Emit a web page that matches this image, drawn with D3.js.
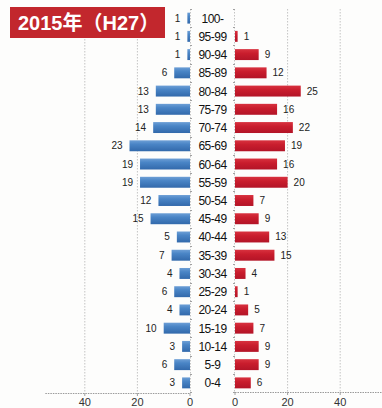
<!DOCTYPE html>
<html>
<head>
<meta charset="utf-8">
<script src="https://cdn.jsdelivr.net/npm/d3@7"></script>
<style>
  html, body { margin: 0; padding: 0; background: #fdfdfc; }
  svg { display: block; }
</style>
</head>
<body>
<svg id="chart" width="382" height="408"></svg>
<script>
// Age groups, oldest at the top
const ageGroups = ["100-", "95-99", "90-94", "85-89", "80-84", "75-79", "70-74",
  "65-69", "60-64", "55-59", "50-54", "45-49", "40-44", "35-39", "30-34",
  "25-29", "20-24", "15-19", "10-14", "5-9", "0-4"];
// Male counts (left, blue)
const maleValues = [1, 1, 1, 6, 13, 13, 14, 23, 19, 19, 12, 15, 5, 7, 4, 6, 4, 10, 3, 6, 3];
// Female counts (right, red)
const femaleValues = [null, 1, 9, 12, 25, 16, 22, 19, 16, 20, 7, 9, 13, 15, 4, 1, 5, 7, 9, 9, 6];
const xTicks = [0, 20, 40];
const titleText = "2015年（H27）";

const svg = d3.select("#chart");
const defs = svg.append("defs");

function grad(id, stops) {
  const g = defs.append("linearGradient").attr("id", id)
    .attr("x1", 0).attr("y1", 0).attr("x2", 0).attr("y2", 1);
  stops.forEach(([o, c]) => g.append("stop").attr("offset", o).attr("stop-color", c));
}
grad("gBlue", [[0, "#6d9fd6"], [0.35, "#4a85c6"], [1, "#3269ab"]]);
grad("gRed", [[0, "#d8323f"], [0.4, "#c91d2d"], [1, "#b31427"]]);

const plotTop = 9, plotBottom = 392;
const y = d3.scaleBand().domain(ageGroups).range([plotTop, plotBottom]).paddingInner(0.4).paddingOuter(0.2);

const xL = d3.scaleLinear().domain([0, 55]).range([190, 190 - 55 * 2.63]);
const xR = d3.scaleLinear().domain([0, 56]).range([235, 235 + 56 * 2.63]);

// grid lines
const grid = svg.append("g").attr("stroke", "#c4c4c4").attr("stroke-width", 1)
  .attr("stroke-dasharray", "1.5,1.5");
xTicks.filter(t => t > 0).forEach(t => {
  grid.append("line").attr("x1", xL(t)).attr("x2", xL(t)).attr("y1", plotTop).attr("y2", plotBottom + 1);
  grid.append("line").attr("x1", xR(t)).attr("x2", xR(t)).attr("y1", plotTop).attr("y2", plotBottom);
});
// vertical axes at zero
grid.append("line").attr("x1", xL(0) + 0.5).attr("x2", xL(0) + 0.5).attr("y1", plotTop).attr("y2", plotBottom + 1);
grid.append("line").attr("x1", xR(0) - 0.5).attr("x2", xR(0) - 0.5).attr("y1", plotTop).attr("y2", plotBottom);

// bottom axes
const axisG = svg.append("g").attr("stroke", "#9a9a9a").attr("stroke-width", 1)
  .attr("stroke-dasharray", "1.5,1");
axisG.append("line").attr("x1", xL.range()[1]).attr("x2", xL(0)).attr("y1", plotBottom + 1.5).attr("y2", plotBottom + 1.5);
axisG.append("line").attr("x1", xR(0)).attr("x2", 382).attr("y1", plotBottom + 0.5).attr("y2", plotBottom + 0.5);

// small ticks on the zero axes at band boundaries
const step = y.step();
const tickG = svg.append("g").attr("stroke", "#a0a0a0").attr("stroke-width", 1);
d3.range(ageGroups.length + 1).forEach(i => {
  const yy = Math.round(plotTop + y.paddingOuter() * step + i * step - step * y.paddingInner() / 2) + 0.5;
  tickG.append("line").attr("x1", xL(0)).attr("x2", xL(0) + 2).attr("y1", yy).attr("y2", yy);
  tickG.append("line").attr("x1", xR(0) - 2).attr("x2", xR(0)).attr("y1", yy).attr("y2", yy);
});

// male bars
svg.append("g").selectAll("rect").data(ageGroups).join("rect")
  .attr("x", (d, i) => xL(maleValues[i]))
  .attr("y", d => y(d))
  .attr("width", (d, i) => xL(0) - xL(maleValues[i]))
  .attr("height", y.bandwidth())
  .attr("fill", "url(#gBlue)");

// female bars
svg.append("g").selectAll("rect").data(ageGroups.filter((d, i) => femaleValues[i] != null)).join("rect")
  .attr("x", xR(0))
  .attr("y", d => y(d))
  .attr("width", d => xR(femaleValues[ageGroups.indexOf(d)]) - xR(0))
  .attr("height", y.bandwidth())
  .attr("fill", "url(#gRed)");

const labelFont = "'Liberation Sans', Arial, sans-serif";

// value labels
svg.append("g").selectAll("text").data(ageGroups).join("text")
  .attr("x", (d, i) => xL(maleValues[i]) - 7)
  .attr("y", d => y(d) + y.bandwidth() / 2 + 3.5)
  .attr("text-anchor", "end")
  .attr("font-family", labelFont).attr("font-size", 10).attr("fill", "#222")
  .text((d, i) => maleValues[i]);

svg.append("g").selectAll("text").data(ageGroups.filter((d, i) => femaleValues[i] != null)).join("text")
  .attr("x", d => xR(femaleValues[ageGroups.indexOf(d)]) + 6)
  .attr("y", d => y(d) + y.bandwidth() / 2 + 3.5)
  .attr("font-family", labelFont).attr("font-size", 10).attr("fill", "#222")
  .text(d => femaleValues[ageGroups.indexOf(d)]);

// age group labels
svg.append("g").selectAll("text").data(ageGroups).join("text")
  .attr("x", 212.5)
  .attr("y", d => y(d) + y.bandwidth() / 2 + 4.5)
  .attr("text-anchor", "middle")
  .attr("font-family", labelFont).attr("font-size", 12).attr("fill", "#111")
  .attr("letter-spacing", -0.5)
  .text(d => d);

// x tick labels
const tl = svg.append("g").attr("font-family", labelFont).attr("font-size", 11)
  .attr("fill", "#333").attr("text-anchor", "middle");
xTicks.forEach(t => {
  tl.append("text").attr("x", xL(t)).attr("y", 406).text(t);
  tl.append("text").attr("x", xR(t)).attr("y", 406).text(t);
});
// tick marks on the bottom axes
xTicks.forEach(t => {
  tickG.append("line").attr("x1", xL(t)).attr("x2", xL(t)).attr("y1", plotBottom + 1).attr("y2", plotBottom + 4);
  tickG.append("line").attr("x1", xR(t)).attr("x2", xR(t)).attr("y1", plotBottom).attr("y2", plotBottom + 3);
});

// title badge
svg.append("rect").attr("x", 10).attr("y", 7).attr("width", 155).attr("height", 31)
  .attr("fill", "#c2272d");
svg.append("text").attr("x", 18).attr("y", 30)
  .attr("font-family", "'Liberation Sans', 'Noto Sans CJK JP', sans-serif")
  .attr("font-weight", "bold").attr("font-size", 20).attr("fill", "#fff")
  .text(titleText);
</script>
</body>
</html>
